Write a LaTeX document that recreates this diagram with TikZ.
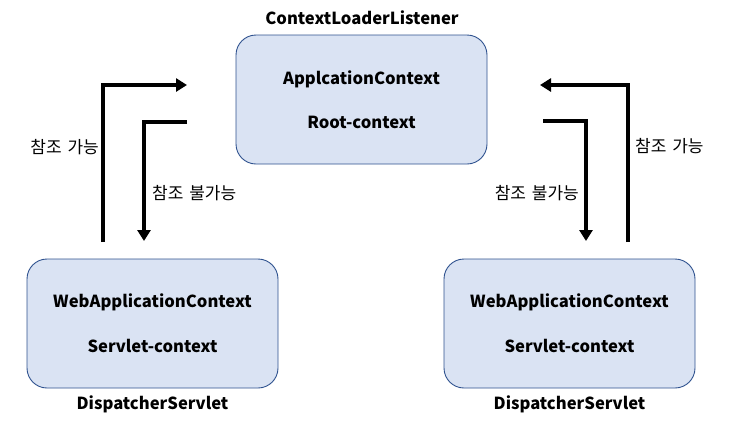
\documentclass[tikz,border=0pt]{standalone}
\usepackage{fontspec}
\setmainfont{Noto Sans CJK KR}
\usetikzlibrary{arrows.meta}
\definecolor{boxfill}{RGB}{218,227,243}
\definecolor{boxdraw}{RGB}{47,82,143}
\begin{document}
\begin{tikzpicture}[x=1pt,y=-1pt,
  ctxbox/.style={draw=boxdraw,fill=boxfill,line width=0.9pt,rounded corners=20pt,minimum width=251pt,minimum height=129pt,inner sep=0pt},
  lbl/.style={font=\fontsize{16.6}{18}\selectfont\bfseries,inner sep=0pt},
  kor/.style={font=\fontsize{17}{18}\selectfont,inner sep=0pt},
  refarrow/.style={line width=4pt,-{Triangle[length=11pt,width=13pt]}}]
\useasboundingbox (0,0) rectangle (729,424);
\node[ctxbox] (root) at (361.5,99.5) {};
\node[ctxbox] (web1) at (152.5,323.5) {};
\node[ctxbox] (web2) at (569.5,323.5) {};
\node[lbl] (rootttl) at (362,18) {ContextLoaderListener};
\node[lbl] (roota) at (root.center |- 0,79) {ApplcationContext};
\node[lbl] (rootb) at (root.center |- 0,122) {Root-context};
\node[lbl] (w1a) at (web1.center |- 0,302) {WebApplicationContext};
\node[lbl] (w1b) at (web1.center |- 0,346) {Servlet-context};
\node[lbl] (w1t) at (web1.center |- 0,404) {DispatcherServlet};
\node[lbl] (w2a) at (web2.center |- 0,302) {WebApplicationContext};
\node[lbl] (w2b) at (web2.center |- 0,346) {Servlet-context};
\node[lbl] (w2t) at (web2.center |- 0,404) {DispatcherServlet};
% left arrows
\coordinate (la1) at (103,242);
\coordinate (la2) at (187,85);
\coordinate (lb1) at (187,122);
\coordinate (lb2) at (144,241);
\draw[refarrow] (la1) |- (la2);
\draw[refarrow] (lb1) -| (lb2);
% right arrows
\coordinate (ra1) at (628,242);
\coordinate (ra2) at (540,85);
\coordinate (rb1) at (543,121);
\coordinate (rb2) at (586,241);
\draw[refarrow] (ra1) |- (ra2);
\draw[refarrow] (rb1) -| (rb2);
\node[kor,anchor=east] (lt1) at (99,147) {참조\hspace{2pt} 가능};
\node[kor,anchor=west] (lt2) at (152,193) {참조\hspace{2pt} 불가능};
\node[kor,anchor=west] (rt1) at (635,146) {참조\hspace{2pt} 가능};
\node[kor,anchor=east] (rt2) at (579,193) {참조\hspace{2pt} 불가능};
\end{tikzpicture}
\end{document}
